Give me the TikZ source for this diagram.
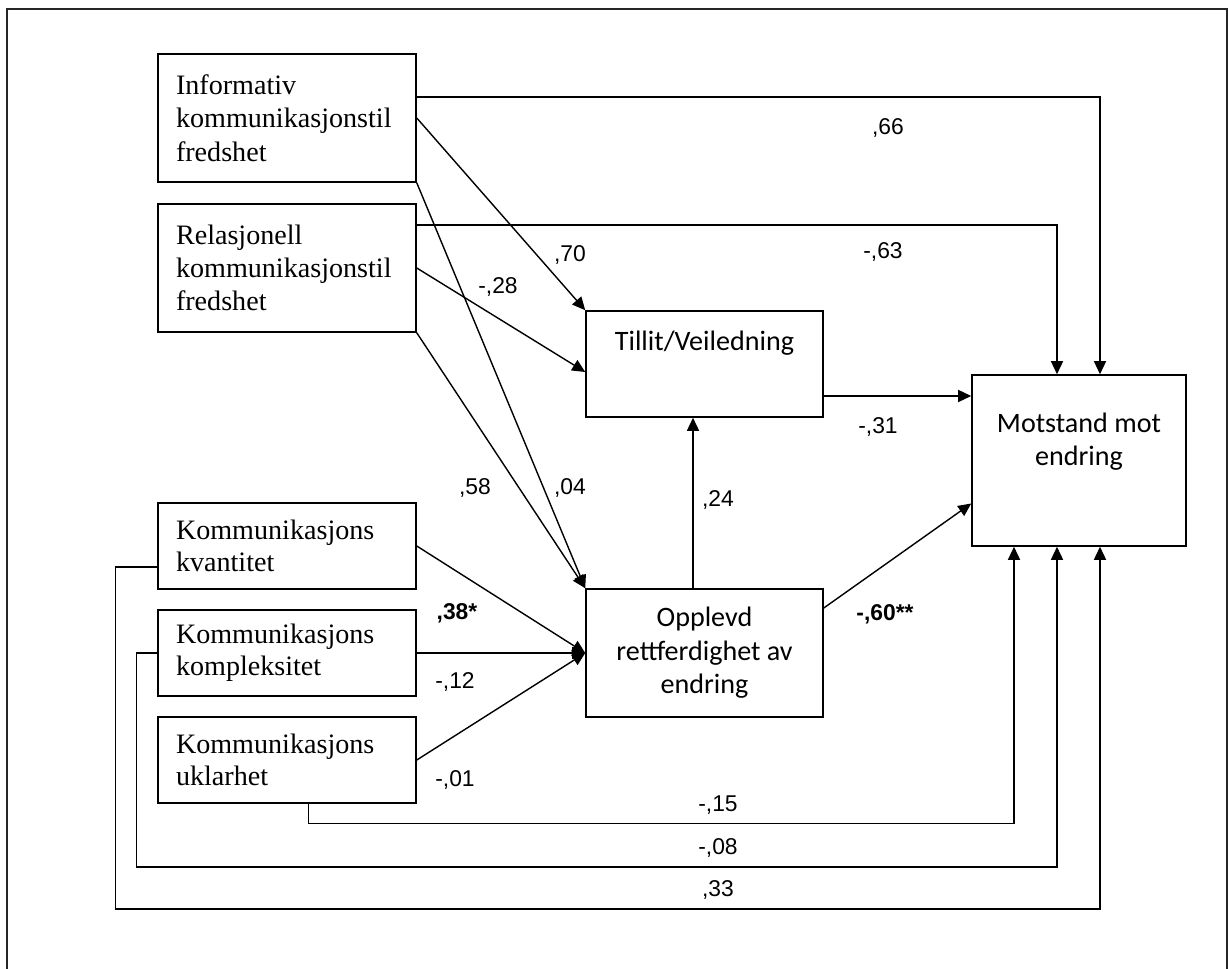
\documentclass[tikz,border=0pt]{standalone}
\usepackage{fontspec}
\usepackage{tikz}
\usetikzlibrary{arrows.meta}
\setmainfont{Liberation Serif}
\newfontfamily\calibri{Carlito}
\newfontfamily\arialf{Liberation Sans}

\begin{document}
\begin{tikzpicture}[
  x=0.02cm, y=-0.02cm,
  varbox/.style={rectangle, draw, line width=0.9pt, text width=4.44cm, inner xsep=0.36cm, minimum width=5.16cm, align=left, font=\fontsize{16}{19}\selectfont},
  calbox/.style={rectangle, draw, line width=0.9pt, minimum width=4.74cm, align=center, font=\calibri\fontsize{16}{19}\selectfont},
  caltext/.style={align=center, font=\calibri\fontsize{16}{19}\selectfont},
  coef/.style={font=\arialf\fontsize{13}{15}\selectfont},
  arr/.style={-{Triangle[length=0.26cm,width=0.24cm]}, line width=0.8pt}
]
  \useasboundingbox (0,0) rectangle (1228,969);
  \draw[line width=1.1pt, black!85] (7,9) rectangle (1227,985);

  % predictors
  \node[varbox, minimum height=2.56cm] (inf) at (287,118) {Informativ\\kommunikasjonstil\\fredshet};
  \node[varbox, minimum height=2.56cm] (rel) at (287,268) {Relasjonell\\kommunikasjonstil\\fredshet};
  \node[varbox, minimum height=1.72cm, font=\fontsize{16}{18}\selectfont] (kvant) at (287,546) {Kommunikasjons\\kvantitet};
  \node[varbox, minimum height=1.72cm, font=\fontsize{16}{18}\selectfont] (kompl) at (287,653) {Kommunikasjons\\kompleksitet};
  \node[varbox, minimum height=1.72cm, font=\fontsize{16}{18}\selectfont] (ukl) at (287,760) {Kommunikasjons\\uklarhet};

  % mediators and outcome
  \node[calbox, minimum height=2.12cm, label={[caltext, yshift=0.42cm]center:Tillit/Veiledning}] (tillit) at (704.5,364) {};
  \node[calbox, minimum height=2.56cm] (opplevd) at (704.5,653) {Opplevd\\rettferdighet av\\endring};
  \node[calbox, minimum width=4.28cm, minimum height=3.42cm, label={[caltext, yshift=0.38cm]center:Motstand mot\\endring}] (mot) at (1079,460.5) {};

  % paths
  \draw[arr] ([yshift=0.42cm]inf.east) -| ([xshift=0.42cm]mot.north);
  \draw[arr] ([yshift=0.86cm]rel.east) -| ([xshift=-0.44cm]mot.north);
  \draw[arr] (inf.east) -- (tillit.north west);
  \draw[arr] (rel.east) -- ([yshift=-0.16cm]tillit.west);
  \draw[arr] (inf.south east) -- (opplevd.north west);
  \draw[arr] (rel.south east) -- (opplevd.north west);
  \draw[arr] ([xshift=-0.23cm]opplevd.north) -- ([xshift=-0.23cm]tillit.south);
  \draw[arr] ([yshift=-0.64cm]tillit.east) coordinate (tm) -- (tm -| mot.west);
  \draw[arr] ([yshift=0.9cm]opplevd.east) -- ([yshift=-0.86cm]mot.west);
  \draw[arr] (kvant.east) -- (opplevd.west);
  \draw[arr] (kompl.east) -- (opplevd.west);
  \draw[arr] (ukl.east) -- (opplevd.west);
  \draw[arr] ([xshift=0.43cm]ukl.south) -- ++(0,20) -| ([xshift=-1.3cm]mot.south);
  \draw[arr] (kompl.west) -- ++(-21,0) -- ++(0,214) -| ([xshift=-0.44cm]mot.south);
  \draw[arr] ([yshift=-0.42cm]kvant.west) -- ++(-42,0) -- ++(0,342) -| ([xshift=0.42cm]mot.south);

  % coefficients
  \node[coef] (c66) at (888,128) {,66};
  \node[coef] (c63) at (883,252) {-,63};
  \node[coef] (c70) at (570,255) {,70};
  \node[coef] (c28) at (498,287) {-,28};
  \node[coef] (c58) at (475,488) {,58};
  \node[coef] (c04) at (570,488) {,04};
  \node[coef] (c24) at (718,500) {,24};
  \node[coef] (c31) at (878,427) {-,31};
  \node[coef, font=\arialf\bfseries\fontsize{13}{15}\selectfont] (c60) at (885,614) {-,60**};
  \node[coef, font=\arialf\bfseries\fontsize{13}{15}\selectfont] (c38) at (457,613) {,38*};
  \node[coef] (c12) at (455,682) {-,12};
  \node[coef] (c01) at (455,780) {-,01};
  \node[coef] (c15) at (718,805) {-,15};
  \node[coef] (c08) at (718,848) {-,08};
  \node[coef] (c33) at (718,890) {,33};
\end{tikzpicture}
\end{document}
